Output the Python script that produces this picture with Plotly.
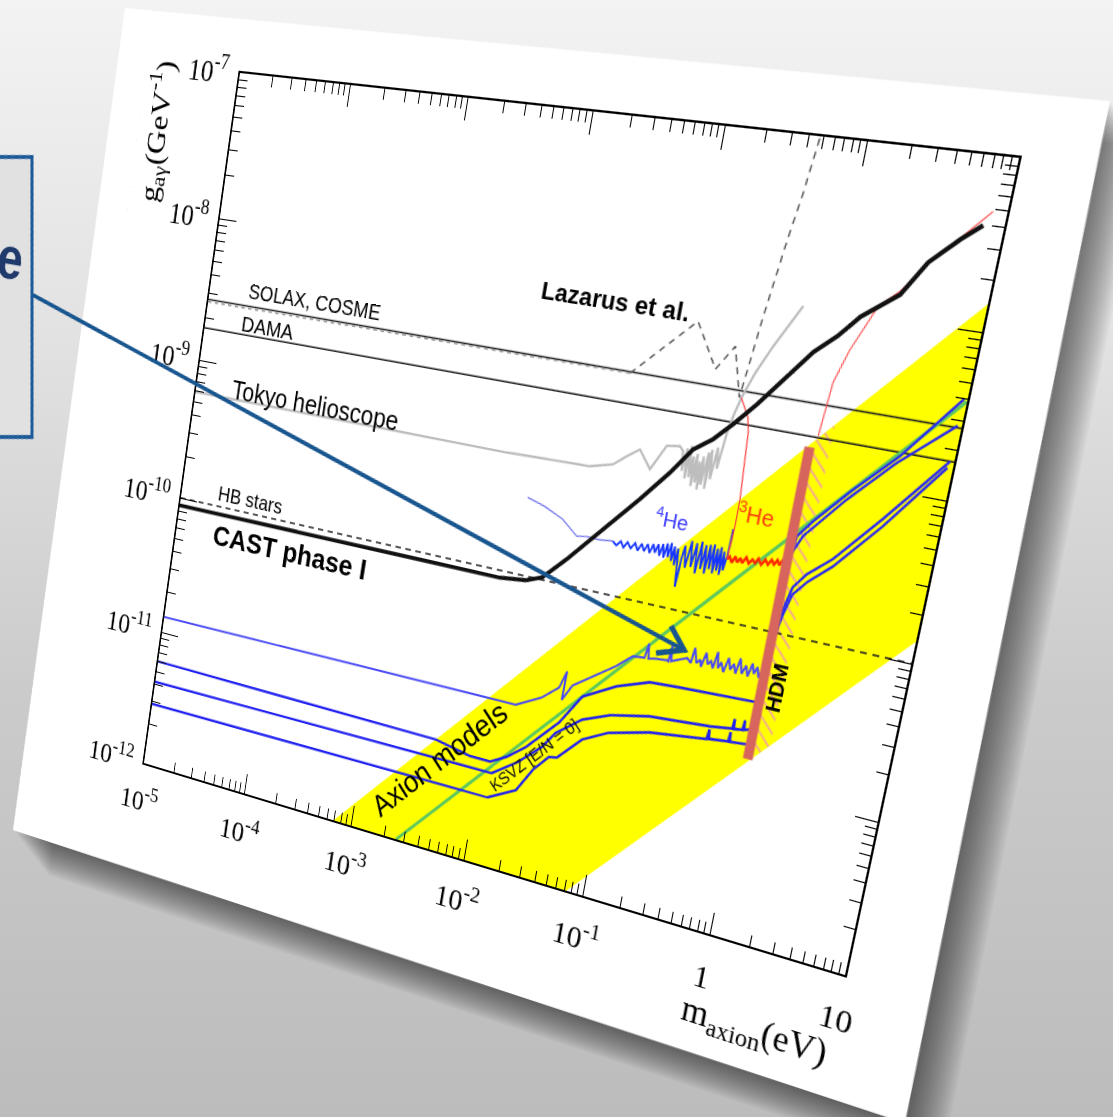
import numpy as np
import plotly.graph_objects as go

# ====================== axes / ticks ======================
x_tick_vals = [1e-5, 1e-4, 1e-3, 1e-2, 1e-1, 1, 10]
x_tick_text = ["10<sup>-5</sup>", "10<sup>-4</sup>", "10<sup>-3</sup>",
               "10<sup>-2</sup>", "10<sup>-1</sup>", "1", "10"]
y_tick_vals = [1e-12, 1e-11, 1e-10, 1e-9, 1e-8, 1e-7]
y_tick_text = ["10<sup>-12</sup>", "10<sup>-11</sup>", "10<sup>-10</sup>",
               "10<sup>-9</sup>", "10<sup>-8</sup>", "10<sup>-7</sup>"]
minor_mantissas = [2, 3, 4, 5, 6, 7, 8, 9]
x_decades = [1e-5, 1e-4, 1e-3, 1e-2, 1e-1, 1]
y_decades = [1e-12, 1e-11, 1e-10, 1e-9, 1e-8]

# ====================== series (m in eV, g in GeV^-1) ======================
solax_m = [1e-5, 10]
solax_g = [2.7e-9, 2.7e-9]
dama_m = [1e-5, 10]
dama_g = [1.7e-9, 1.7e-9]
hb_m = [1e-5, 10]
hb_g = [1.0e-10, 1.0e-10]

cast_m = [1e-5, 8e-3, 0.013, 0.0173, 0.0252, 0.0417, 0.0754, 0.116, 0.159, 0.215,
          0.285, 0.397, 0.49, 0.827, 1.15, 1.54, 2.65, 3.65, 5.47, 7.33]
cast_g = [8.8e-11, 8.95e-11, 9.4e-11, 1.04e-10, 1.47e-10, 2.44e-10, 4.45e-10, 7.1e-10,
          1.05e-9, 1.28e-9, 1.66e-9, 2.33e-9, 2.98e-9, 5.41e-9, 7.07e-9, 9.6e-9,
          1.4e-8, 2.25e-8, 3.2e-8, 4.0e-8]

laz_flat_m = [1e-5, 0.043]
laz_flat_g = [2.6e-9, 2.65e-9]
laz_m = [0.043, 0.116, 0.179, 0.232, 0.29, 0.333, 0.387, 0.43, 0.475]
laz_g = [2.65e-9, 6.44e-9, 3.43e-9, 4.94e-9, 2.45e-9, 7.94e-9, 2.37e-8, 4.5e-8, 1.0e-7]

tokyo_m = [1e-5, 6.1e-3, 0.0285, 0.0424, 0.0527, 0.0646, 0.0815, 0.101, 0.126, 0.135,
           0.14, 0.145, 0.15, 0.155, 0.16, 0.165, 0.17, 0.175, 0.18, 0.185, 0.19, 0.195,
           0.2, 0.21, 0.215, 0.22, 0.23, 0.24, 0.25, 0.265, 0.28, 0.303, 0.35, 0.429, 0.612]
tokyo_g = [5.9e-10, 5.98e-10, 6.2e-10, 6.8e-10, 7.96e-10, 9.1e-10, 7.05e-10, 1.03e-9,
           1.06e-9, 1.0e-9, 7.5e-10, 1.05e-9, 6.8e-10, 1.1e-9, 7.0e-10, 9.5e-10, 6.2e-10,
           1.0e-9, 6.6e-10, 9.0e-10, 6.0e-10, 9.8e-10, 6.5e-10, 1.05e-9, 6.2e-10, 1.1e-9,
           7.2e-10, 1.15e-9, 8.5e-10, 1.46e-9, 1.9e-9, 2.51e-9, 3.6e-9, 5.38e-9, 9.9e-9]

he4_thin_m = [0.0103, 0.0145, 0.0207, 0.025, 0.0281, 0.034, 0.042, 0.0538]
he4_thin_g = [3.26e-10, 3.0e-10, 2.63e-10, 2.3e-10, 2.14e-10, 2.2e-10, 2.18e-10, 2.23e-10]
he4_m = [0.0538, 0.058, 0.062, 0.066, 0.07, 0.075, 0.08, 0.085, 0.09, 0.095, 0.10, 0.105,
         0.11, 0.115, 0.12, 0.125, 0.13, 0.135, 0.14, 0.145, 0.15, 0.155, 0.16, 0.165,
         0.17, 0.175, 0.18, 0.185, 0.19, 0.2, 0.21, 0.22, 0.23, 0.24, 0.25, 0.26, 0.27,
         0.28, 0.29, 0.30, 0.31, 0.32, 0.33, 0.34, 0.35, 0.36, 0.37, 0.38, 0.39, 0.394, 0.398]
he4_g = [2.23e-10, 2.12e-10, 2.28e-10, 2.1e-10, 2.3e-10, 2.12e-10, 2.32e-10, 2.1e-10,
         2.35e-10, 2.12e-10, 2.38e-10, 2.1e-10, 2.42e-10, 2.15e-10, 2.45e-10, 2.08e-10,
         2.5e-10, 2.05e-10, 2.55e-10, 2.1e-10, 2.6e-10, 2.0e-10, 2.5e-10, 1.9e-10,
         2.45e-10, 1.75e-10, 1.4e-10, 2.2e-10, 2.6e-10, 1.9e-10, 2.85e-10, 1.95e-10,
         2.8e-10, 1.8e-10, 2.9e-10, 1.95e-10, 2.8e-10, 1.85e-10, 2.85e-10, 2.0e-10,
         2.9e-10, 1.9e-10, 2.75e-10, 2.0e-10, 2.85e-10, 1.9e-10, 2.7e-10, 2.05e-10,
         2.5e-10, 2.44e-10, 3.8e-10]

he3_m = [0.394, 0.41, 0.43, 0.45, 0.47, 0.49, 0.51, 0.54, 0.57, 0.60, 0.63, 0.66, 0.70,
         0.74, 0.78, 0.82, 0.86, 0.90, 0.94, 0.98, 1.02, 1.06, 1.1]
he3_g = [2.44e-10, 2.55e-10, 2.35e-10, 2.6e-10, 2.4e-10, 2.58e-10, 2.42e-10, 2.65e-10,
         2.45e-10, 2.62e-10, 2.5e-10, 2.7e-10, 2.5e-10, 2.72e-10, 2.55e-10, 2.76e-10,
         2.6e-10, 2.8e-10, 2.62e-10, 2.85e-10, 2.68e-10, 2.86e-10, 2.8e-10]

red_left_m = [0.394, 0.405, 0.404, 0.39, 0.374, 0.355, 0.30]
red_left_g = [2.44e-10, 4.0e-10, 5.9e-10, 9.5e-10, 1.55e-9, 1.9e-9, 2.45e-9]
red_right_m = [1.16, 1.2, 1.24, 1.45, 1.97, 2.6, 3.75, 8.12]
red_right_g = [1.74e-9, 2.6e-9, 3.76e-9, 6.0e-9, 1.15e-8, 1.45e-8, 2.25e-8, 4.84e-8]

l1_m = [1e-5, 0.016, 0.025, 0.0333, 0.0365, 0.0362, 0.042, 0.058, 0.085, 0.11, 0.135,
        0.14, 0.145, 0.16, 0.2, 0.205, 0.21, 0.215, 0.24, 0.26, 0.28, 0.30, 0.31, 0.33,
        0.35, 0.36, 0.38, 0.40, 0.42, 0.44, 0.46, 0.48, 0.50, 0.53, 0.56, 0.59, 0.62,
        0.65, 0.68, 0.72, 0.76, 0.80, 0.84, 0.88, 0.92, 0.96, 1.0]
l1_g = [1.3e-11, 1.38e-11, 1.7e-11, 2.12e-11, 2.78e-11, 1.78e-11, 2.3e-11, 2.83e-11,
        3.6e-11, 4.41e-11, 4.5e-11, 5.6e-11, 4.5e-11, 4.6e-11, 4.7e-11, 4.65e-11,
        5.9e-11, 4.7e-11, 4.9e-11, 5.0e-11, 5.2e-11, 4.9e-11, 6.2e-11, 5.0e-11, 5.3e-11,
        4.8e-11, 6.0e-11, 5.1e-11, 5.4e-11, 4.9e-11, 6.3e-11, 5.0e-11, 5.5e-11, 4.8e-11,
        6.0e-11, 5.1e-11, 5.6e-11, 4.9e-11, 6.2e-11, 5.0e-11, 5.7e-11, 4.9e-11, 6.0e-11,
        5.2e-11, 5.8e-11, 5.0e-11, 5.6e-11]
l2_m = [1e-5, 4e-3, 8e-3, 0.012, 0.016, 0.0221, 0.0372, 0.0518, 0.0912, 0.160, 0.26, 0.514, 1.0]
l2_g = [6.0e-12, 5.8e-12, 5.2e-12, 5.2e-12, 6.0e-12, 7.55e-12, 1.25e-11, 2.02e-11,
        2.67e-11, 3.2e-11, 3.3e-11, 3.41e-11, 3.5e-11]
l3_m = [1e-5, 0.0128, 0.02, 0.0295, 0.036, 0.0556, 0.09, 0.178, 0.27, 0.52, 0.74, 0.75,
        0.76, 0.88, 0.89, 0.90, 0.99]
l3_g = [4.2e-12, 4.38e-12, 5.8e-12, 8.07e-12, 1.05e-11, 1.43e-11, 1.7e-11, 1.94e-11,
        2.0e-11, 2.1e-11, 2.2e-11, 2.55e-11, 2.2e-11, 2.25e-11, 2.6e-11, 2.25e-11, 2.32e-11]
l4_m = [1e-5, 0.0128, 0.0211, 0.027, 0.0346, 0.04, 0.0593, 0.092, 0.187, 0.27, 0.50,
        0.51, 0.52, 0.72, 0.73, 0.74, 0.99]
l4_g = [2.85e-12, 2.95e-12, 3.73e-12, 5.5e-12, 7.13e-12, 7.3e-12, 1.06e-11, 1.3e-11,
        1.53e-11, 1.6e-11, 1.72e-11, 2.0e-11, 1.74e-11, 1.8e-11, 2.08e-11, 1.8e-11, 1.85e-11]

hi_a_m = [1.06, 1.14, 1.4, 2.28, 4.38, 9.5]
hi_a_g = [2.6e-10, 4.15e-10, 5.3e-10, 8.8e-10, 1.62e-9, 4.0e-9]
hi_b_m = [1.06, 1.1, 1.25, 2.2, 4.2, 9.4]
hi_b_g = [2.2e-10, 3.2e-10, 4.2e-10, 7.8e-10, 1.45e-9, 2.77e-9]
hi_c_m = [1.06, 1.15, 1.25, 1.5, 2.16, 4.12, 9.4]
hi_c_g = [9.0e-11, 1.43e-10, 2.0e-10, 2.5e-10, 3.34e-10, 6.64e-10, 1.7e-9]
hi_d_m = [1.06, 1.16, 1.27, 1.55, 2.2, 4.2, 9.2]
hi_d_g = [8.0e-11, 1.3e-10, 1.8e-10, 2.25e-10, 3.0e-10, 6.0e-10, 1.55e-9]

band_m = [6.9e-4, 0.073, 10, 10]
band_g = [1e-12, 1e-12, 1.37e-10, 1.45e-8]
ksvz_m = [2.56e-3, 10]
ksvz_g = [1e-12, 3.9e-9]
hdm_m = [1.05, 1.05]
hdm_g = [1.5e-11, 1.46e-9]
hatch_m = [1.05, 1.45, 1.45, 1.05]
hatch_g = [1.44e-11, 1.99e-11, 2.1e-9, 1.52e-9]

label_text = ["SOLAX, COSME", "DAMA", "Tokyo helioscope", "<b>Lazarus et al.</b>", "HB stars",
              "<b>CAST phase I</b>", "<sup>4</sup>He", "<sup>3</sup>He", "Axion models",
              "KSVZ [E/N = 0]", "<b>HDM</b>"]
label_m = [9.06e-5, 3.77e-5, 1.26e-4, 0.026, 4.48e-5, 1.17e-4, 0.139, 0.55, 4.49e-3, 0.0262, 1.34]
label_g = [3.45e-9, 2.03e-9, 6.98e-10, 7.2e-9, 1.25e-10, 6.24e-11, 3.66e-10, 5.0e-10,
           4.24e-12, 6.9e-12, 4.59e-11]
label_size = [20, 21, 25, 23, 20, 28, 19, 20, 29, 16, 19]
label_color = ["#000", "#000", "#000", "#000", "#000", "#000", "#3a3aff", "#ff3a10",
               "#000", "#111", "#000"]
label_angle = [0, 0, 0, 0, 0, 0, 0, 0, "band", "band", -90]

# ====================== geometry of the tilted sheet ======================
PW, PH = 760, 690
frame_screen = [[240, 73], [1019, 158], [845, 975], [144, 763]]
sheet_screen = [[125, 8], [1110, 101], [905, 1123], [13, 830]]
box_screen = [[-30, 157], [32, 157], [32, 437], [-30, 437]]
arrow_tail, arrow_tip = [33, 295], [684, 650]
arrow_arm1, arrow_arm2 = [671, 626], [656, 653]
e_anchor = [24, 260]
ytitle_screen = [157, 132]
xtitle_screen = [752, 1032]


def homography(src, dst):
    A, b = [], []
    for (x, y), (X, Y) in zip(src, dst):
        A.append([x, y, 1, 0, 0, 0, -x * X, -y * X]); b.append(X)
        A.append([0, 0, 0, x, y, 1, -x * Y, -y * Y]); b.append(Y)
    h = np.linalg.solve(np.array(A, float), np.array(b, float))
    return np.append(h, 1.0).reshape(3, 3)


H0 = homography([[0, 0], [PW, 0], [PW, PH], [0, PH]], frame_screen)
H0i = np.linalg.inv(H0)


def to_local(p):
    v = H0i @ np.array([p[0], p[1], 1.0])
    return v[:2] / v[2]


def to_paper(p):
    lx, ly = to_local(p)
    return lx / PW, 1 - ly / PH


shadow_steps = [(2.2 * k, 2.8 * k) for k in range(1, 17)]
bound = list(sheet_screen) + [[x + 40, y + 50] for x, y in sheet_screen] + box_screen + \
    [arrow_tail, arrow_tip, [-60, 220], [-60, 320]]
loc = np.array([to_local(p) for p in bound])
L = int(np.ceil(-loc[:, 0].min())) + 10
T = int(np.ceil(-loc[:, 1].min())) + 10
R = int(np.ceil(loc[:, 0].max() - PW)) + 10
B = int(np.ceil(loc[:, 1].max() - PH)) + 10
FW, FH = L + PW + R, T + PH + B

Hdiv = H0 @ np.array([[1, 0, -L], [0, 1, -T], [0, 0, 1]], float)
Hdiv = Hdiv / Hdiv[2, 2]


def path_of(pts, close=True):
    pp = [to_paper(p) for p in pts]
    s = "M " + " L ".join(f"{x:.6f},{y:.6f}" for x, y in pp)
    return s + (" Z" if close else "")


# ====================== figure ======================
fig = go.Figure()


def line(m, g, color, width, dash="solid", **kw):
    fig.add_trace(go.Scatter(x=m, y=g, mode="lines", hoverinfo="skip",
                             line=dict(color=color, width=width, dash=dash), **kw))


fig.add_trace(go.Scatter(x=band_m, y=band_g, mode="lines", fill="toself",
                         fillcolor="#ffff00", line=dict(width=0), hoverinfo="skip"))
fig.add_trace(go.Scatter(x=hatch_m, y=hatch_g, mode="lines", fill="toself",
                         fillcolor="rgba(0,0,0,0)", line=dict(width=0), hoverinfo="skip",
                         fillpattern=dict(shape="\\", fgcolor="#f3a3a0", bgcolor="rgba(0,0,0,0)",
                                          size=9, solidity=0.18)))
line(solax_m, solax_g, "#222", 1.4)
line(dama_m, dama_g, "#222", 1.4)
line(hb_m, hb_g, "#222", 1.3, dash="6px,5px")
line(laz_flat_m, laz_flat_g, "#9a9a9a", 1.6, dash="4px,4px")
line(laz_m, laz_g, "#555", 1.4, dash="6px,5px")
line(tokyo_m, tokyo_g, "#bdbdbd", 2.2)
line(ksvz_m, ksvz_g, "#5ec85e", 3.0)
line(l1_m, l1_g, "#4b4bf5", 2.0)
line(l2_m, l2_g, "#2222f0", 2.4)
line(l3_m, l3_g, "#2222f0", 2.4)
line(l4_m, l4_g, "#2222f0", 2.4)
line(hi_a_m, hi_a_g, "#2a2af2", 2.2)
line(hi_b_m, hi_b_g, "#2a2af2", 2.2)
line(hi_c_m, hi_c_g, "#2a2af2", 2.2)
line(hi_d_m, hi_d_g, "#2a2af2", 2.2)
line(he4_thin_m, he4_thin_g, "#6c6cf0", 1.2)
line(he4_m, he4_g, "#1636ff", 1.8)
line(he3_m, he3_g, "#ff2a00", 2.4)
line(red_left_m, red_left_g, "#ff3b3b", 1.1)
line(red_right_m, red_right_g, "#ff5050", 1.1)
line(cast_m, cast_g, "#111", 3.8)
line(hdm_m, hdm_g, "#d8655d", 9)

x_minor = [k * d for d in x_decades for k in minor_mantissas]
y_minor = [k * d for d in y_decades for k in minor_mantissas]

axis_common = dict(type="log", showgrid=False, zeroline=False, showline=True,
                   linecolor="black", linewidth=1.6, mirror="allticks", ticks="inside",
                   ticklen=20, tickwidth=1.4, tickcolor="black", tickmode="array",
                   automargin=False,
                   tickfont=dict(family="Liberation Serif, Times New Roman, serif",
                                 size=30, color="black"))
fig.update_xaxes(**axis_common, range=[-5, 1], tickvals=x_tick_vals, ticktext=x_tick_text,
                 ticklabelstandoff=12,
                 minor=dict(ticks="inside", ticklen=10, tickwidth=1.2, tickcolor="black",
                            tickmode="array", tickvals=x_minor, showgrid=False))
fig.update_yaxes(**axis_common, range=[-12, -7], tickvals=y_tick_vals, ticktext=y_tick_text,
                 ticklabelstandoff=6,
                 minor=dict(ticks="inside", ticklen=10, tickwidth=1.2, tickcolor="black",
                            tickmode="array", tickvals=y_minor, showgrid=False))

shapes = []
for dx, dy in shadow_steps:
    shapes.append(dict(type="path", xref="paper", yref="paper", layer="below",
                       path=path_of([[x + dx, y + dy] for x, y in sheet_screen]),
                       fillcolor="rgba(0,0,0,0.045)", line=dict(width=0)))
shapes.append(dict(type="path", xref="paper", yref="paper", layer="below",
                   path=path_of(sheet_screen), fillcolor="white", line=dict(width=0)))
shapes.append(dict(type="path", xref="paper", yref="paper", layer="above",
                   path=path_of(box_screen), fillcolor="#e1e1e1",
                   line=dict(color="#1d5a9a", width=4)))
ax0, ay0 = to_paper(arrow_tail)
ax1, ay1 = to_paper(arrow_tip)
shapes.append(dict(type="line", xref="paper", yref="paper", layer="above",
                   x0=ax0, y0=ay0, x1=ax1, y1=ay1, line=dict(color="#19568f", width=4)))
shapes.append(dict(type="path", xref="paper", yref="paper", layer="above",
                   path=path_of([arrow_arm1, arrow_tip, arrow_arm2], close=False),
                   fillcolor="rgba(0,0,0,0)", line=dict(color="#19568f", width=5)))

annotations = []
band_angle = -np.degrees(np.arctan((PH / 5.0) / (PW / 6.0)))
for txt, m, g, sz, col, ang in zip(label_text, label_m, label_g, label_size, label_color,
                                   label_angle):
    if ang == "band":
        ang = band_angle
    annotations.append(dict(x=np.log10(m), y=np.log10(g), xref="x", yref="y", text=txt,
                            showarrow=False, textangle=ang, xanchor="center",
                            yanchor="middle",
                            font=dict(family="Liberation Sans, Arial, sans-serif",
                                      size=sz, color=col)))
ex, ey = to_paper(e_anchor)
annotations.append(dict(x=ex, y=ey, xref="paper", yref="paper", text="<b>e</b>",
                        showarrow=False, xanchor="right", yanchor="middle",
                        font=dict(family="Liberation Sans, Arial, sans-serif", size=62,
                                  color="#1f3a6b")))
tx, ty = to_paper(ytitle_screen)
annotations.append(dict(x=tx, y=ty, xref="paper", yref="paper",
                        text="g<sub>aγ</sub>(GeV<sup>-1</sup>)", showarrow=False,
                        textangle=-90, xanchor="center", yanchor="middle",
                        font=dict(family="Liberation Serif, Times New Roman, serif",
                                  size=32, color="black")))
tx, ty = to_paper(xtitle_screen)
annotations.append(dict(x=tx, y=ty, xref="paper", yref="paper",
                        text="m<sub>axion</sub>(eV)", showarrow=False,
                        xanchor="center", yanchor="middle",
                        font=dict(family="Liberation Serif, Times New Roman, serif",
                                  size=33, color="black")))

fig.update_layout(template="none", width=FW, height=FH, showlegend=False,
                  margin=dict(l=L, r=R, t=T, b=B, pad=0, autoexpand=False),
                  paper_bgcolor="rgba(0,0,0,0)", plot_bgcolor="rgba(0,0,0,0)",
                  shapes=shapes, annotations=annotations)

h = Hdiv
matrix = ("matrix3d(" + ",".join(f"{v:.10g}" for v in [
    h[0, 0], h[1, 0], 0, h[2, 0],
    h[0, 1], h[1, 1], 0, h[2, 1],
    0, 0, 1, 0,
    h[0, 2], h[1, 2], 0, h[2, 2]]) + ")")

post_js = """
var gd = document.getElementById('{plot_id}');
var root = document.documentElement;
root.style.height = '100%';
root.style.overflow = 'hidden';
root.style.background = 'linear-gradient(180deg, #f3f3f3 0%, #e2e2e2 30%, #cbcbcb 62%, #bcbcbc 100%)';
document.body.style.margin = '0';
document.body.style.height = '100%';
document.body.style.overflow = 'hidden';
document.body.style.background = 'transparent';
gd.style.position = 'absolute';
gd.style.left = '0px';
gd.style.top = '0px';
gd.style.transformOrigin = '0 0';
gd.style.transform = '""" + matrix + """';
"""

fig.write_html("out.html", post_script=post_js, config={"displayModeBar": False})
